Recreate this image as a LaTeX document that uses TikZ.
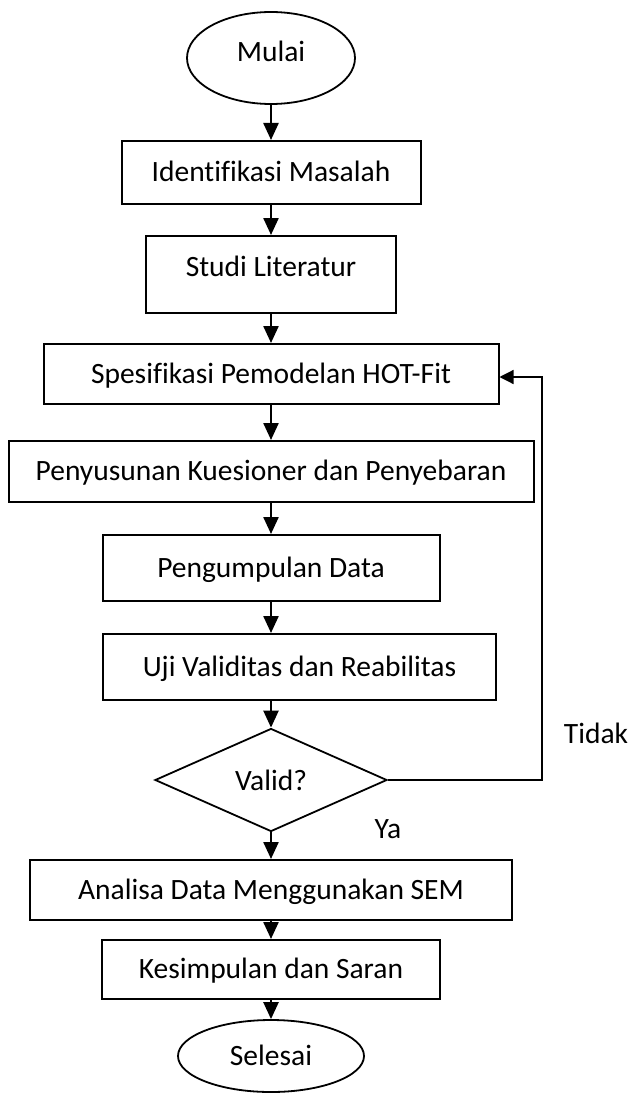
\documentclass[tikz,border=0pt]{standalone}
\usepackage{fontspec}
\setmainfont[Ligatures=CommonOff]{Carlito}
\usetikzlibrary{arrows.meta,shapes.geometric,positioning}

\begin{document}
\begin{tikzpicture}[x=1pt,y=-1pt,>={Triangle[length=17pt,width=15pt]},
    box/.style={draw,line width=2pt,inner sep=0pt,text height=18pt,text depth=0pt},
    oval/.style={draw,ellipse,line width=1.8pt,inner sep=0pt,text height=18pt,text depth=0pt},
    arr/.style={->,line width=2.4pt},
    font=\fontsize{29.5}{35}\selectfont]
  \useasboundingbox (0,0) rectangle (635,1097);
  % terminals
  \node[oval,minimum width=168pt,minimum height=92pt,text depth=11pt] (mulai) at (271,58) {Mulai};
  \node[oval,minimum width=186pt,minimum height=72pt] (selesai) at (271,1056) {Selesai};
  % process boxes
  \node[box,minimum width=299pt,minimum height=63pt] (ident) at (271,172.5) {Identifikasi Masalah};
  \node[box,minimum width=250pt,minimum height=77pt,text depth=15pt] (studi) at (271,274.5) {Studi Literatur};
  \node[box,minimum width=455pt,minimum height=60pt] (spek) at (271,374) {Spesifikasi Pemodelan HOT-Fit};
  \node[box,minimum width=525pt,minimum height=61pt] (susun) at (271,471.5) {Penyusunan Kuesioner dan Penyebaran};
  \node[box,minimum width=337pt,minimum height=66pt] (kumpul) at (271,568) {Pengumpulan Data};
  \node[box,minimum width=393pt,minimum height=66pt] (uji) at (299.5,667) {Uji Validitas dan Reabilitas};
  \node[box,minimum width=482pt,minimum height=60pt] (analisa) at (271,890) {Analisa Data Menggunakan SEM};
  \node[box,minimum width=338pt,minimum height=59pt] (simpul) at (271,969.5) {Kesimpulan dan Saran};
  % decision
  \node[draw,diamond,line width=1.8pt,inner sep=0pt,minimum width=232pt,minimum height=103pt] (valid) at (271,780) {Valid?};
  \node (ya) at (388,829) {Ya};
  \node (tidak) at (596,733) {Tidak};
  % arrows
  \foreach \a/\b in {mulai/ident,ident/studi,studi/spek,spek/susun,susun/kumpul,
                     valid/analisa,analisa/simpul,simpul/selesai}{
    \draw[arr] (\a) -- (\b);
  }
  \draw[arr] (kumpul.south) -- (kumpul.south |- uji.north);
  \draw[arr] (uji.south -| valid.north) -- (valid.north);
  % feedback
  \coordinate (fbtop) at (542,377);
  \draw[->,line width=1.2pt,>={Triangle[length=14pt,width=14pt]}]
    (valid.east) -| (fbtop) -- (fbtop -| spek.east);
\end{tikzpicture}
\end{document}
